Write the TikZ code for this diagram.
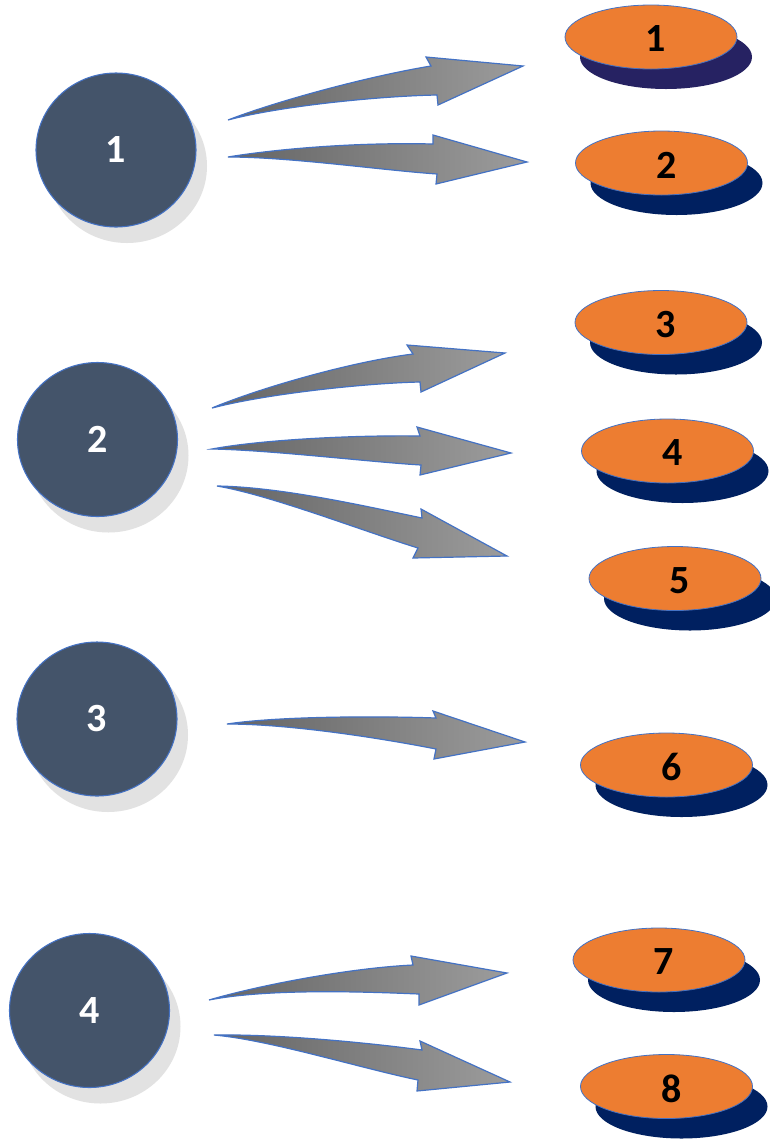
\documentclass[tikz,border=0pt]{standalone}
\usepackage{fontspec}
\setmainfont{Carlito}
\usetikzlibrary{shapes.geometric,calc}
\definecolor{slate}{HTML}{44546A}
\definecolor{edgeblue}{HTML}{4472C4}
\definecolor{diskorange}{HTML}{ED7D31}
\definecolor{navy}{HTML}{002060}
\definecolor{plum}{HTML}{262262}
\definecolor{hubshade}{HTML}{E2E2E2}
\definecolor{arrowdark}{HTML}{646464}
\definecolor{arrowlight}{HTML}{9C9C9C}
\begin{document}
\begin{tikzpicture}[x=0.75pt,y=-0.75pt,
  hub/.style={ellipse,minimum width=120pt,minimum height=115.5pt,inner sep=0pt,fill=slate,draw=edgeblue,line width=0.8pt},
  hubshadow/.style={ellipse,minimum width=120pt,minimum height=115.5pt,inner sep=0pt,fill=hubshade},
  hubtext/.style={text=white,font=\fontsize{30}{32}\selectfont\bfseries,inner sep=0pt},
  disk/.style={ellipse,minimum width=129pt,minimum height=48pt,inner sep=0pt,fill=diskorange,draw=edgeblue,line width=0.6pt},
  diskshadow/.style={ellipse,minimum width=129pt,minimum height=48pt,inner sep=0pt},
  disktext/.style={text=black,font=\fontsize{30}{32}\selectfont\bfseries,inner sep=0pt},
  barrow/.style={draw=edgeblue,line width=0.9pt,line join=miter,shading=axis,shading angle=120,left color=arrowdark,right color=arrowlight}]
\useasboundingbox (0,0) rectangle (769,1140);
\fill[white] (0,0) rectangle (769,1140);

% hubs
\foreach \n/\x/\y in {1/116/150,2/97.5/439.5,3/97/719,4/89.5/1010.5}{
  \node[hubshadow] (hs\n) at (\x+11,\y+16) {};
  \node[hub] (h\n) at (\x,\y) {};
  \node[hubtext] (ht\n) at (h\n) {\n};
}

% disks
\foreach \n/\x/\y/\c in {1/651/37/plum,2/661.5/163/navy,3/661/322.5/navy,4/667.5/451/navy,5/675/578.5/navy,6/666.5/765/navy,7/659/960/navy,8/666.5/1086.5/navy}{
  \node[diskshadow,fill=\c] (ds\n) at (\x+15,\y+20) {};
  \node[disk] (d\n) at (\x,\y) {};
  \node[disktext] (dt\n) at (\x+5,\y+2) {\n};
}

% arrows
\path[barrow] (228,120) .. controls (280,100) and (370,76) .. (431,66) -- (426,57) -- (523,66) -- (438,105) -- (437,95) .. controls (380,96) and (280,106) .. (228,120) -- cycle;
\path[barrow] (228,157) .. controls (270,150) and (350,142) .. (433,144) -- (433,135) -- (527,162) -- (436,184) -- (437,174) .. controls (380,170) and (290,157) .. (228,157) -- cycle;

\path[barrow] (212,408) .. controls (260,388) and (350,362) .. (413,354) -- (407,345) -- (505,353) -- (421,392) -- (420,382) .. controls (370,383) and (270,393) .. (212,408) -- cycle;
\path[barrow] (212,449) .. controls (260,440) and (350,435) .. (420,436) -- (417,427) -- (511,453) -- (420,475) -- (421,465) .. controls (370,462) and (270,450) .. (212,449) -- cycle;
\path[barrow] (217,486) .. controls (280,487) and (360,505) .. (422,518) -- (421,509) -- (507,556) -- (413,558) -- (418,548) .. controls (360,530) and (270,495) .. (217,486) -- cycle;

\path[barrow] (227,724) .. controls (280,716) and (380,716) .. (436,718) -- (433,711) -- (525,742) -- (434,759) -- (436,749) .. controls (380,738) and (290,724) .. (227,724) -- cycle;

\path[barrow] (209,1000) .. controls (260,985) and (350,968) .. (413,965) -- (411,956) -- (507,973) -- (419,1005) -- (419,994) .. controls (370,992) and (270,988) .. (209,1000) -- cycle;
\path[barrow] (214,1035) .. controls (280,1034) and (370,1043) .. (422,1050) -- (420,1041) -- (510,1082) -- (417,1091) -- (418,1080) .. controls (360,1068) and (270,1040) .. (214,1035) -- cycle;
\end{tikzpicture}
\end{document}
